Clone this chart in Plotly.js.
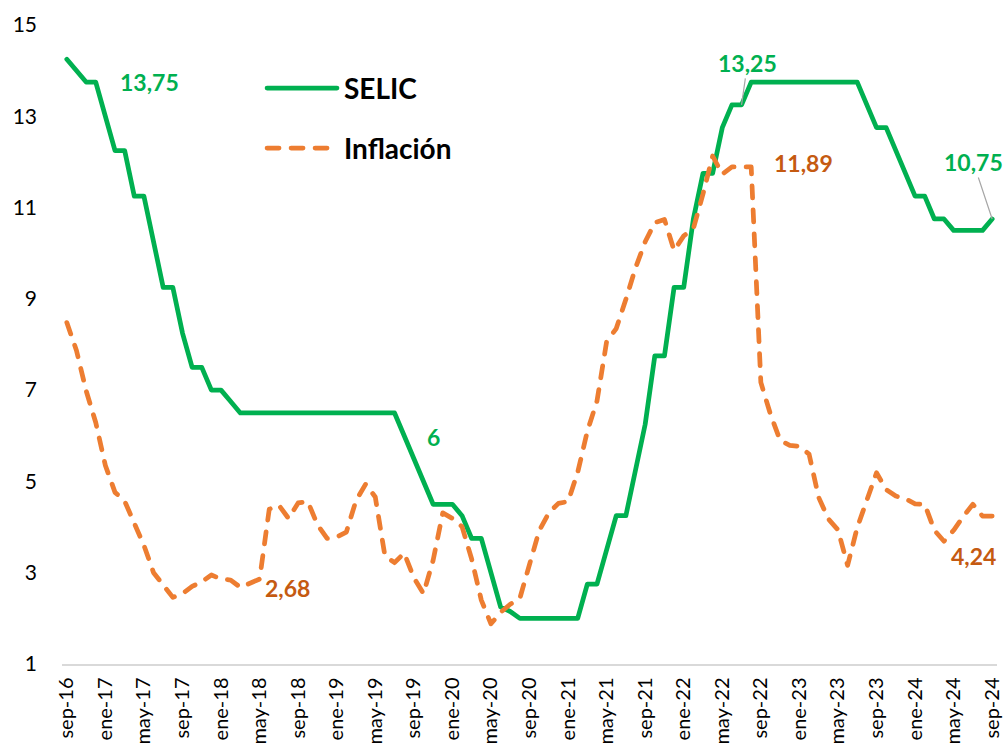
<!DOCTYPE html>
<html>
<head>
<meta charset="utf-8">
<script src="https://cdn.plot.ly/plotly-3.0.1.min.js"></script>
<style>
  html, body { margin: 0; padding: 0; background: #fff; }
  #chart { width: 1007px; height: 750px; }
  path.js-line, .shapelayer path { stroke-linecap: round; stroke-linejoin: round; }
</style>
</head>
<body>
<div id="chart"></div>
<script>
// Months (sep-16 .. sep-24)
const months = [
  "sep-16","oct-16","nov-16","dic-16",
  "ene-17","feb-17","mar-17","abr-17","may-17","jun-17","jul-17","ago-17","sep-17","oct-17","nov-17","dic-17",
  "ene-18","feb-18","mar-18","abr-18","may-18","jun-18","jul-18","ago-18","sep-18","oct-18","nov-18","dic-18",
  "ene-19","feb-19","mar-19","abr-19","may-19","jun-19","jul-19","ago-19","sep-19","oct-19","nov-19","dic-19",
  "ene-20","feb-20","mar-20","abr-20","may-20","jun-20","jul-20","ago-20","sep-20","oct-20","nov-20","dic-20",
  "ene-21","feb-21","mar-21","abr-21","may-21","jun-21","jul-21","ago-21","sep-21","oct-21","nov-21","dic-21",
  "ene-22","feb-22","mar-22","abr-22","may-22","jun-22","jul-22","ago-22","sep-22","oct-22","nov-22","dic-22",
  "ene-23","feb-23","mar-23","abr-23","may-23","jun-23","jul-23","ago-23","sep-23","oct-23","nov-23","dic-23",
  "ene-24","feb-24","mar-24","abr-24","may-24","jun-24","jul-24","ago-24","sep-24"
];

// SELIC rate (%)
const selic = [
  14.25,14.00,13.75,13.75,
  13.00,12.25,12.25,11.25,11.25,10.25,9.25,9.25,8.25,7.50,7.50,7.00,
  7.00,6.75,6.50,6.50,6.50,6.50,6.50,6.50,6.50,6.50,6.50,6.50,
  6.50,6.50,6.50,6.50,6.50,6.50,6.50,6.00,5.50,5.00,4.50,4.50,
  4.50,4.25,3.75,3.75,3.00,2.25,2.15,2.00,2.00,2.00,2.00,2.00,
  2.00,2.00,2.75,2.75,3.50,4.25,4.25,5.25,6.25,7.75,7.75,9.25,
  9.25,10.75,11.75,11.75,12.75,13.25,13.25,13.75,13.75,13.75,13.75,13.75,
  13.75,13.75,13.75,13.75,13.75,13.75,13.75,13.25,12.75,12.75,12.25,11.75,
  11.25,11.25,10.75,10.75,10.50,10.50,10.50,10.50,10.75
];

// Inflation, 12 months (%)
const inflacion = [
  8.48,7.87,6.99,6.29,
  5.35,4.76,4.57,4.08,3.60,3.00,2.71,2.46,2.54,2.70,2.80,2.95,
  2.86,2.84,2.68,2.76,2.86,4.39,4.48,4.19,4.53,4.56,4.05,3.75,
  3.78,3.89,4.58,4.94,4.66,3.37,3.22,3.43,2.89,2.54,3.27,4.31,
  4.19,4.01,3.30,2.40,1.88,2.13,2.31,2.44,3.14,3.92,4.31,4.52,
  4.56,5.20,6.10,6.76,8.06,8.35,8.99,9.68,10.25,10.67,10.74,10.06,
  10.38,10.54,11.30,12.13,11.73,11.89,11.89,11.89,7.17,6.47,5.90,5.79,
  5.77,5.60,4.65,4.18,3.94,3.16,3.99,4.61,5.19,4.82,4.68,4.62,
  4.51,4.50,3.93,3.69,3.93,4.23,4.50,4.24,4.24
];

// Tick labels shown on the x axis (every 4 months)
const xTickLabels = [
  "sep-16","ene-17","may-17","sep-17","ene-18","may-18","sep-18","ene-19","may-19",
  "sep-19","ene-20","may-20","sep-20","ene-21","may-21","sep-21","ene-22","may-22",
  "sep-22","ene-23","may-23","sep-23","ene-24","may-24","sep-24"
];
const yTickVals = [1,3,5,7,9,11,13,15];

const seriesNames = ["SELIC", "Inflación"];
const GREEN = "#00B050", ORANGE = "#ED7D31", ORANGE_DARK = "#C55A11";
const FONT = "Lato, 'Open Sans', sans-serif";

const traces = [
  { x: months, y: selic, type: "scatter", mode: "lines", name: seriesNames[0],
    line: { color: GREEN, width: 4.75 }, showlegend: false, hoverinfo: "skip" },
  { x: months, y: inflacion, type: "scatter", mode: "lines", name: seriesNames[1],
    line: { color: ORANGE, width: 4.75, dash: "12px,12px" }, showlegend: false, hoverinfo: "skip" }
];

function idx(m) { return months.indexOf(m); }
const lblFont = (c) => ({ family: FONT, size: 23, color: c, weight: 700 });

const annotations = [
  { x: "dic-16", y: selic[idx("dic-16")], text: "<b>13,75</b>", showarrow: false, xshift: 54, yshift: 0, font: lblFont(GREEN) },
  { x: "mar-18", y: inflacion[idx("mar-18")], text: "<b>2,68</b>", showarrow: false, xshift: 47, yshift: -1, font: lblFont(ORANGE_DARK) },
  { x: "ago-19", y: selic[idx("ago-19")], text: "<b>6</b>", showarrow: false, xshift: 29, yshift: -1, font: lblFont(GREEN) },
  { x: "jun-22", y: inflacion[idx("jun-22")], text: "<b>11,89</b>", showarrow: false, xshift: 72, yshift: 4, font: lblFont(ORANGE_DARK) },
  { x: "ago-24", y: inflacion[idx("ago-24")], text: "<b>4,24</b>", showarrow: false, xshift: -9, yshift: -40, font: lblFont(ORANGE_DARK) },
  { x: "jul-22", y: selic[idx("jul-22")], text: "<b>13,25</b>", showarrow: true, arrowhead: 0, arrowwidth: 1.2,
    arrowcolor: "#A6A6A6", ax: 6, ay: -42, standoff: 0, font: lblFont(GREEN) },
  { x: "sep-24", y: selic[idx("sep-24")], text: "<b>10,75</b>", showarrow: true, arrowhead: 0, arrowwidth: 1.2,
    arrowcolor: "#A6A6A6", ax: -19, ay: -57, standoff: 0, font: lblFont(GREEN) },
  // legend texts
  { xref: "paper", yref: "paper", x: 0.2995, y: 0.9014, xanchor: "left", yanchor: "middle", showarrow: false,
    text: "<b>" + seriesNames[0] + "</b>", font: { family: FONT, size: 28, color: "#000" } },
  { xref: "paper", yref: "paper", x: 0.2995, y: 0.8075, xanchor: "left", yanchor: "middle", showarrow: false,
    text: "<b>" + seriesNames[1] + "</b>", font: { family: FONT, size: 28, color: "#000" } }
];

const shapes = [
  { type: "line", xref: "paper", yref: "paper", x0: 0.2193, x1: 0.2941, y0: 0.9014, y1: 0.9014,
    line: { color: GREEN, width: 4.75 } },
  { type: "line", xref: "paper", yref: "paper", x0: 0.2193, x1: 0.2941, y0: 0.8075, y1: 0.8075,
    line: { color: ORANGE, width: 4.75, dash: "12px,12px" } }
];

const layout = {
  width: 1007, height: 750,
  margin: { l: 62, r: 10, t: 25, b: 86 },
  paper_bgcolor: "#ffffff", plot_bgcolor: "#ffffff",
  font: { family: FONT, size: 21, color: "#000" },
  showlegend: false,
  xaxis: {
    type: "category", range: [-0.5, months.length - 0.5],
    tickmode: "array", tickvals: xTickLabels, ticktext: xTickLabels,
    tickangle: -90, ticks: "", showgrid: false, zeroline: false,
    showline: true, linecolor: "#D9D9D9", linewidth: 1.5,
    ticklabelstandoff: 4, tickfont: { family: FONT, size: 20, color: "#000" }
  },
  yaxis: {
    range: [1, 15], tickmode: "array", tickvals: yTickVals, ticktext: yTickVals.map(String),
    ticks: "", showgrid: false, zeroline: false, showline: false,
    ticklabelstandoff: 24, tickfont: { family: FONT, size: 21, color: "#000" }
  },
  annotations: annotations,
  shapes: shapes
};

Plotly.newPlot("chart", traces, layout, { staticPlot: true, displayModeBar: false });
</script>
</body>
</html>
